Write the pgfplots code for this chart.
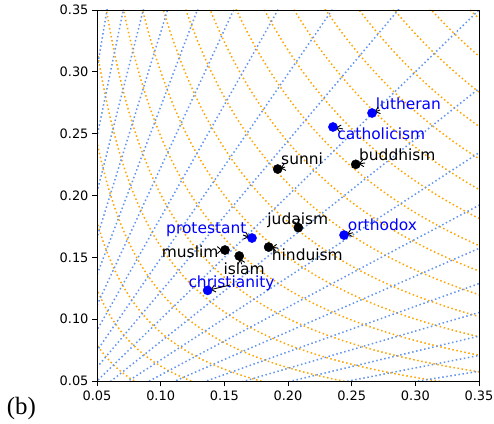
\documentclass[border=0pt]{standalone}
\usepackage{pgfplots}
\pgfplotsset{compat=1.18}
\usepackage{fontspec}
\setmainfont{DejaVu Sans}
\newfontfamily\seriffont{Liberation Serif}
\usetikzlibrary{arrows.meta}
\definecolor{gridorange}{HTML}{FFA500}
\definecolor{gridblue}{HTML}{6495ED}
\definecolor{ptblue}{HTML}{0000FF}
\newcommand{\lab}{\fontsize{15.5}{18}\selectfont}
\begin{document}
\begin{tikzpicture}[x=1bp,y=1bp]
\path[use as bounding box] (0,0) rectangle (494,423);
\begin{axis}[
  at={(97bp,42bp)}, anchor=south west,
  width=382bp, height=371bp, scale only axis,
  xmin=0.05, xmax=0.35, ymin=0.05, ymax=0.35,
  xtick={0.05,0.10,0.15,0.20,0.25,0.30,0.35},
  ytick={0.05,0.10,0.15,0.20,0.25,0.30,0.35},
  xticklabels={0.05,0.10,0.15,0.20,0.25,0.30,0.35},
  yticklabels={0.05,0.10,0.15,0.20,0.25,0.30,0.35},
  tick align=outside, major tick length=5bp,
  tick style={black, line width=0.8bp},
  axis line style={line width=0.8bp},
  xtick pos=bottom, ytick pos=left,
  ticklabel style={font=\fontsize{13}{15}\selectfont},
  xticklabel style={yshift=-1.5bp},
  clip=true,
  axis on top,
]
% black points (drawn below the grid)
\addplot[only marks, mark=*, mark size=4.6bp, black, mark options={draw=black, fill=black}] coordinates {
  (0.2532,0.2252) % buddhism
  (0.1919,0.2214) % sunni
  (0.2081,0.1740) % judaism
  (0.1505,0.1559) % muslim
  (0.1848,0.1583) % hinduism
  (0.1617,0.1511) % islam
};
% orange iso-curves of constant geometric mean
\pgfplotsinvokeforeach{4,...,22}{
  \addplot[gridorange, line width=1.5bp, dash pattern=on 1.5bp off 2.6bp, domain=-1.8:1.8, samples=73, smooth, forget plot]
    ({#1*0.01575*exp(x)},{#1*0.01575*exp(-x)});
}
% blue lines of constant ratio
\pgfplotsinvokeforeach{0.1653,0.2019,0.2466,0.3012,0.3679,0.4493,0.5488,0.6703,0.8187,1,1.2214,1.4918,1.8221,2.2255,2.7183,3.3201,4.0552,4.9530,6.0496}{
  \addplot[gridblue, line width=1.5bp, dash pattern=on 1.5bp off 2.6bp, forget plot]
    coordinates {(0,0) (1,#1)};
}
% blue points
\addplot[only marks, mark=*, mark size=4.6bp, ptblue, mark options={draw=ptblue, fill=ptblue}] coordinates {
  (0.2660,0.2667) % lutheran
  (0.2353,0.2554) % catholicism
  (0.2440,0.1680) % orthodox
  (0.1717,0.1656) % protestant
  (0.1369,0.1233) % christianity
};
% labels
\tikzset{lbl/.style={anchor=base west, inner sep=0pt, font=\lab},
         arr/.style={-{Straight Barb[length=4bp,width=7bp]}, line width=0.9bp, black, shorten >=3bp}}
\node[lbl, text=ptblue] at (axis cs:0.2689,0.2697) {lutheran};
\node[lbl, text=ptblue] at (axis cs:0.2387,0.2449) {catholicism};
\node[lbl] at (axis cs:0.2557,0.2281) {buddhism};
\node[lbl] at (axis cs:0.1945,0.2247) {sunni};
\node[lbl] at (axis cs:0.1837,0.1769) {judaism};
\node[lbl, text=ptblue] at (axis cs:0.2469,0.1713) {orthodox};
\node[lbl, text=ptblue] at (axis cs:0.1042,0.1694) {protestant};
\node[lbl] at (axis cs:0.1008,0.1497) {muslim};
\node[lbl] at (axis cs:0.1872,0.1478) {hinduism};
\node[lbl] at (axis cs:0.1492,0.1358) {islam};
\node[lbl, text=ptblue] at (axis cs:0.1217,0.1254) {christianity};
\draw[arr] (axis cs:0.2722,0.2691) -- (axis cs:0.2660,0.2667);
\draw[arr] (axis cs:0.2432,0.2538) -- (axis cs:0.2353,0.2554);
\draw[arr] (axis cs:0.2605,0.2263) -- (axis cs:0.2532,0.2252);
\draw[arr] (axis cs:0.1976,0.2230) -- (axis cs:0.1919,0.2214);
\draw[arr] (axis cs:0.2071,0.1778) -- (axis cs:0.2081,0.1740);
\draw[arr] (axis cs:0.2510,0.1699) -- (axis cs:0.2440,0.1680);
\draw[arr] (axis cs:0.1647,0.1680) -- (axis cs:0.1717,0.1656);
\draw[arr] (axis cs:0.1474,0.1559) -- (axis cs:0.1505,0.1559);
\draw[arr] (axis cs:0.1921,0.1575) -- (axis cs:0.1848,0.1583);
\draw[arr] (axis cs:0.1636,0.1445) -- (axis cs:0.1617,0.1511);
\draw[arr] (axis cs:0.1544,0.1276) -- (axis cs:0.1369,0.1233);
\end{axis}
\node[anchor=base west, inner sep=0pt, font=\seriffont\fontsize{25}{28}\selectfont] at (6.7,9) {(b)};
\end{tikzpicture}
\end{document}
